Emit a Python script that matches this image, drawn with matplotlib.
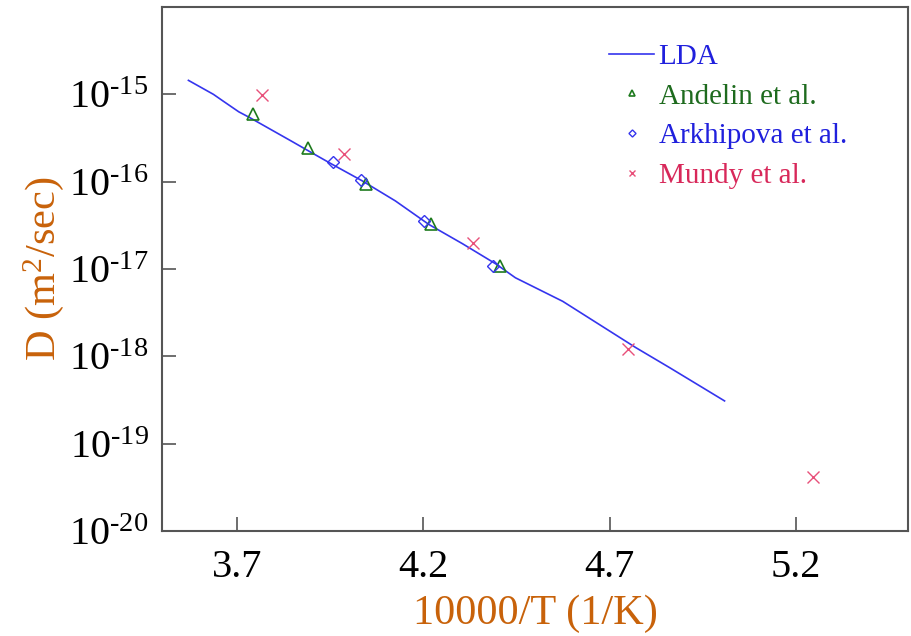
import matplotlib
matplotlib.use('Agg')
import matplotlib.pyplot as plt
from matplotlib.ticker import FixedLocator, NullLocator

plt.rcParams['font.family'] = ['Liberation Serif', 'DejaVu Serif']
plt.rcParams['mathtext.fontset'] = 'custom'
plt.rcParams['mathtext.rm'] = 'Liberation Serif'
plt.rcParams['mathtext.it'] = 'Liberation Serif'
plt.rcParams['mathtext.default'] = 'regular'

# LDA curve (10000/T, D)
lda_x = [3.570, 3.637, 3.664, 3.705, 3.736, 3.848, 3.893, 3.955, 4.036, 4.125,
         4.215, 4.305, 4.394, 4.447, 4.574, 4.770, 4.861, 4.950, 5.008]
lda_logd = [-14.84, -15.00, -15.08, -15.20, -15.27, -15.54, -15.65, -15.80, -15.99, -16.22,
            -16.49, -16.71, -16.94, -17.10, -17.37, -17.90, -18.13, -18.36, -18.51]

andelin_x = [3.743, 3.890, 4.047, 4.220, 4.405]
andelin_logd = [-15.23, -15.61, -16.03, -16.48, -16.96]

arkhipova_x = [3.959, 4.034, 4.203, 4.388]
arkhipova_logd = [-15.78, -15.98, -16.45, -16.97]

mundy_x = [3.767, 3.988, 4.334, 4.748, 5.246]
mundy_logd = [-15.01, -15.68, -16.70, -17.91, -19.38]

xticks = [3.7, 4.2, 4.7, 5.2]
yticks = [-20, -19, -18, -17, -16, -15]

fig = plt.figure(figsize=(9.12, 6.36), dpi=100)
ax = fig.add_axes([0.178, 0.165, 0.8176, 0.824])

ax.plot(lda_x, [10 ** v for v in lda_logd], color='#3535ee', lw=1.2, label='LDA')
ax.plot(andelin_x, [10 ** v for v in andelin_logd], ls='none', marker='^', ms=8,
        mfc='none', mec='#1e7a1e', mew=1.2, label='Andelin et al.')
ax.plot(arkhipova_x, [10 ** v for v in arkhipova_logd], ls='none', marker='D', ms=6,
        mfc='none', mec='#3535ee', mew=1.0, label='Arkhipova et al.')
ax.plot(mundy_x, [10 ** v for v in mundy_logd], ls='none', marker='x', ms=8,
        color='#e8507a', mew=1.0, label='Mundy et al.')

ax.set_yscale('log')
ax.set_xlim(3.5, 5.5)
ax.set_ylim(1e-20, 1e-14)
ax.xaxis.set_major_locator(FixedLocator(xticks))
ax.set_xticklabels([str(t) for t in xticks])
ax.yaxis.set_major_locator(FixedLocator([10.0 ** e for e in yticks]))
ax.yaxis.set_minor_locator(NullLocator())
ax.set_yticklabels([r'$10^{\text{-%d}}$' % (-e) for e in yticks])

for s in ax.spines.values():
    s.set_color('#555555')
    s.set_linewidth(1.5)
ax.tick_params(direction='in', length=10, width=1.2, color='#555555',
               labelsize=29, top=False, right=False)
ax.tick_params(axis='x', pad=13)
ax.tick_params(axis='y', pad=10)

label_color = '#c8620a'
ax.set_xlabel('10000/T (1/K)', fontsize=30.5, color=label_color, labelpad=6)
ax.set_ylabel('D (m$^2$/sec)', fontsize=30.5, color=label_color, labelpad=2)

leg = ax.legend(loc='upper left', bbox_to_anchor=(0.599, 0.93), frameon=False,
                borderaxespad=0, borderpad=0,
                fontsize=21, handlelength=1.55, handletextpad=0.15, markerscale=0.6,
                labelspacing=0.45)
for txt, c in zip(leg.get_texts(), ['#2020dd', '#1e6b1e', '#2020dd', '#d8285a']):
    txt.set_color(c)

fig.savefig('out.png', dpi=100)
